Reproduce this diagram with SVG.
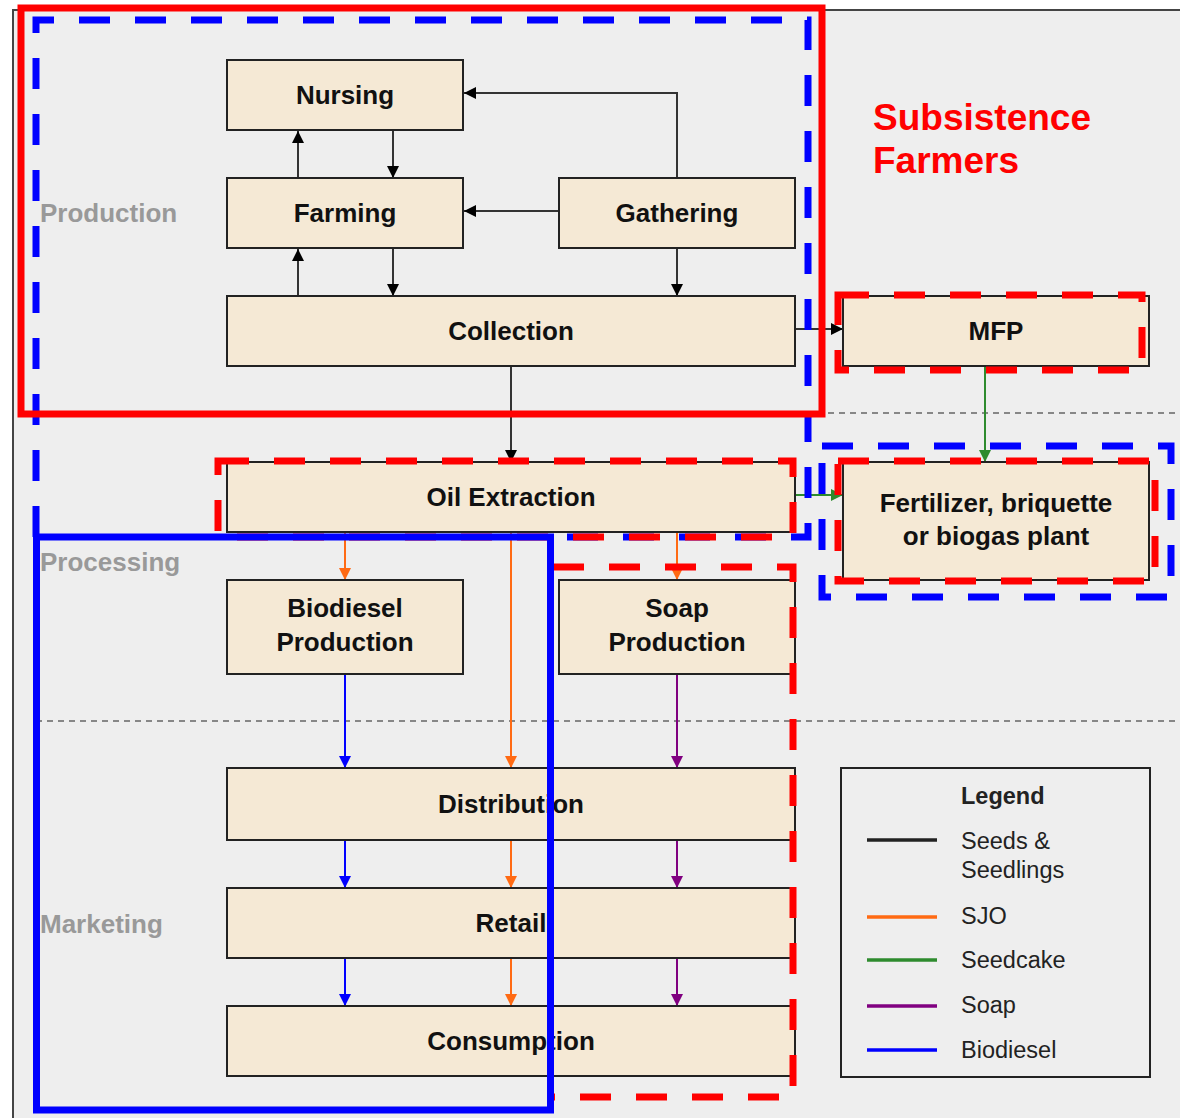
<svg xmlns="http://www.w3.org/2000/svg" width="1180" height="1118" viewBox="0 0 1180 1118">
  <style>
    .node rect { fill: #f5e9d5; stroke: #222; stroke-width: 2; }
    .node text { font-family: "Liberation Sans", Arial, sans-serif; font-weight: bold; font-size: 26px; fill: #111; text-anchor: middle; }
    .section { font-family: "Liberation Sans", Arial, sans-serif; font-weight: bold; font-size: 26px; fill: #999; }
    .sep { stroke: #666; stroke-width: 1.5; stroke-dasharray: 6 5; fill: none; }
    .c { fill: none; stroke-width: 2; }
    .k { stroke: #333; marker-end: url(#ak); }
    .o { stroke: #ff6a13; marker-end: url(#ao); }
    .b { stroke: #0000ff; marker-end: url(#ab); }
    .p { stroke: #800080; marker-end: url(#ap); }
    .g { stroke: #2e8b2e; marker-end: url(#ag); }
    .hl { fill: none; stroke-width: 7; }
    .dash { stroke-dasharray: 31 25; }
    .leg text { font-family: "Liberation Sans", Arial, sans-serif; font-size: 23.5px; fill: #222; }
    .leg line { stroke-width: 3.5; }
  </style>
  <defs>
    <marker id="ak" viewBox="0 0 10 10" refX="10" refY="5" markerWidth="12" markerHeight="12" markerUnits="userSpaceOnUse" orient="auto"><path d="M0,0 L10,5 L0,10 z" fill="#000"/></marker>
    <marker id="ao" viewBox="0 0 10 10" refX="10" refY="5" markerWidth="12" markerHeight="12" markerUnits="userSpaceOnUse" orient="auto"><path d="M0,0 L10,5 L0,10 z" fill="#ff6a13"/></marker>
    <marker id="ab" viewBox="0 0 10 10" refX="10" refY="5" markerWidth="12" markerHeight="12" markerUnits="userSpaceOnUse" orient="auto"><path d="M0,0 L10,5 L0,10 z" fill="#0000ff"/></marker>
    <marker id="ap" viewBox="0 0 10 10" refX="10" refY="5" markerWidth="12" markerHeight="12" markerUnits="userSpaceOnUse" orient="auto"><path d="M0,0 L10,5 L0,10 z" fill="#800080"/></marker>
    <marker id="ag" viewBox="0 0 10 10" refX="10" refY="5" markerWidth="12" markerHeight="12" markerUnits="userSpaceOnUse" orient="auto"><path d="M0,0 L10,5 L0,10 z" fill="#2e8b2e"/></marker>
  </defs>

  <!-- page and panel -->
  <rect x="0" y="0" width="1180" height="1118" fill="#ffffff"/>
  <rect x="13" y="10" width="1180" height="1120" fill="#eeeeee" stroke="#444" stroke-width="2"/>

  <!-- stage separators -->
  <line class="sep" x1="36" y1="413" x2="1180" y2="413"/>
  <line class="sep" x1="36" y1="721" x2="1180" y2="721"/>

  <!-- stage labels -->
  <text class="section" x="40" y="222">Production</text>
  <text class="section" x="40" y="571">Processing</text>
  <text class="section" x="40" y="933">Marketing</text>

  <!-- title -->
  <text x="873" y="130" font-family="'Liberation Sans', Arial, sans-serif" font-weight="bold" font-size="37" fill="#ff0000">Subsistence</text>
  <text x="873" y="173" font-family="'Liberation Sans', Arial, sans-serif" font-weight="bold" font-size="37" fill="#ff0000">Farmers</text>

  <!-- connectors -->
  <g id="connectors">
    <polyline class="c k" points="677,178 677,93 464,93"/>
    <line class="c k" x1="393" y1="131" x2="393" y2="178"/>
    <line class="c k" x1="298" y1="178" x2="298" y2="131"/>
    <line class="c k" x1="559" y1="211" x2="464" y2="211"/>
    <line class="c k" x1="393" y1="249" x2="393" y2="296"/>
    <line class="c k" x1="298" y1="296" x2="298" y2="249"/>
    <line class="c k" x1="677" y1="249" x2="677" y2="296"/>
    <line class="c k" x1="796" y1="329" x2="843" y2="329"/>
    <line class="c k" x1="511" y1="367" x2="511" y2="462"/>
    <line class="c g" x1="985" y1="367" x2="985" y2="462"/>
    <line class="c g" x1="796" y1="495" x2="843" y2="495"/>
    <line class="c o" x1="345" y1="533" x2="345" y2="580"/>
    <line class="c o" x1="677" y1="533" x2="677" y2="580"/>
    <line class="c o" x1="511" y1="533" x2="511" y2="768"/>
    <line class="c b" x1="345" y1="675" x2="345" y2="768"/>
    <line class="c p" x1="677" y1="675" x2="677" y2="768"/>
    <line class="c b" x1="345" y1="841" x2="345" y2="888"/>
    <line class="c o" x1="511" y1="841" x2="511" y2="888"/>
    <line class="c p" x1="677" y1="841" x2="677" y2="888"/>
    <line class="c b" x1="345" y1="959" x2="345" y2="1006"/>
    <line class="c o" x1="511" y1="959" x2="511" y2="1006"/>
    <line class="c p" x1="677" y1="959" x2="677" y2="1006"/>
  </g>

  <!-- nodes -->
  <g id="nursing" class="node"><rect x="227" y="60" width="236" height="70"/><text x="345" y="104">Nursing</text></g>
  <g id="farming" class="node"><rect x="227" y="178" width="236" height="70"/><text x="345" y="222">Farming</text></g>
  <g id="gathering" class="node"><rect x="559" y="178" width="236" height="70"/><text x="677" y="222">Gathering</text></g>
  <g id="collection" class="node"><rect x="227" y="296" width="568" height="70"/><text x="511" y="340">Collection</text></g>
  <g id="mfp" class="node"><rect x="843" y="296" width="306" height="70"/><text x="996" y="340">MFP</text></g>
  <g id="oil-extraction" class="node"><rect x="227" y="462" width="568" height="70"/><text x="511" y="506">Oil Extraction</text></g>
  <g id="fertilizer" class="node"><rect x="843" y="462" width="306" height="118"/><text x="996" y="512" font-size="25">Fertilizer, briquette</text><text x="996" y="545" font-size="25">or biogas plant</text></g>
  <g id="biodiesel-production" class="node"><rect x="227" y="580" width="236" height="94"/><text x="345" y="617">Biodiesel</text><text x="345" y="651">Production</text></g>
  <g id="soap-production" class="node"><rect x="559" y="580" width="236" height="94"/><text x="677" y="617">Soap</text><text x="677" y="651">Production</text></g>
  <g id="distribution" class="node"><rect x="227" y="768" width="568" height="72"/><text x="511" y="813">Distribution</text></g>
  <g id="retail" class="node"><rect x="227" y="888" width="568" height="70"/><text x="511" y="932">Retail</text></g>
  <g id="consumption" class="node"><rect x="227" y="1006" width="568" height="70"/><text x="511" y="1050">Consumption</text></g>

  <!-- legend -->
  <g id="legend" class="leg">
    <rect x="841" y="768" width="309" height="309" fill="none" stroke="#222" stroke-width="2"/>
    <text x="961" y="804" font-weight="bold">Legend</text>
    <line x1="867" y1="840" x2="937" y2="840" stroke="#222"/>
    <text x="961" y="849">Seeds &amp;</text>
    <text x="961" y="878">Seedlings</text>
    <line x1="867" y1="917" x2="937" y2="917" stroke="#ff6a13"/>
    <text x="961" y="924">SJO</text>
    <line x1="867" y1="960" x2="937" y2="960" stroke="#2e8b2e"/>
    <text x="961" y="968">Seedcake</text>
    <line x1="867" y1="1006" x2="937" y2="1006" stroke="#800080"/>
    <text x="961" y="1013">Soap</text>
    <line x1="867" y1="1050" x2="937" y2="1050" stroke="#0000ff"/>
    <text x="961" y="1058">Biodiesel</text>
  </g>

  <!-- highlight outlines -->
  <g id="highlights">
    <path class="hl dash" stroke="#0000ff" d="M36,537 V20 H808 V537 H550"/>
    <rect class="hl dash" stroke="#0000ff" x="822" y="446" width="349" height="151"/>
    <rect class="hl" stroke="#ff0000" x="21" y="8" width="801" height="406"/>
    <rect class="hl dash" stroke="#ff0000" x="218" y="461" width="575" height="76"/>
    <path class="hl dash" stroke="#ff0000" d="M553,567 H793 V1097 H553"/>
    <rect class="hl dash" stroke="#ff0000" x="838" y="295" width="304" height="75"/>
    <rect class="hl dash" stroke="#ff0000" x="838" y="461" width="317" height="120"/>
    <rect class="hl" stroke="#0000ff" x="36.5" y="537" width="514" height="573"/>
  </g>
</svg>
